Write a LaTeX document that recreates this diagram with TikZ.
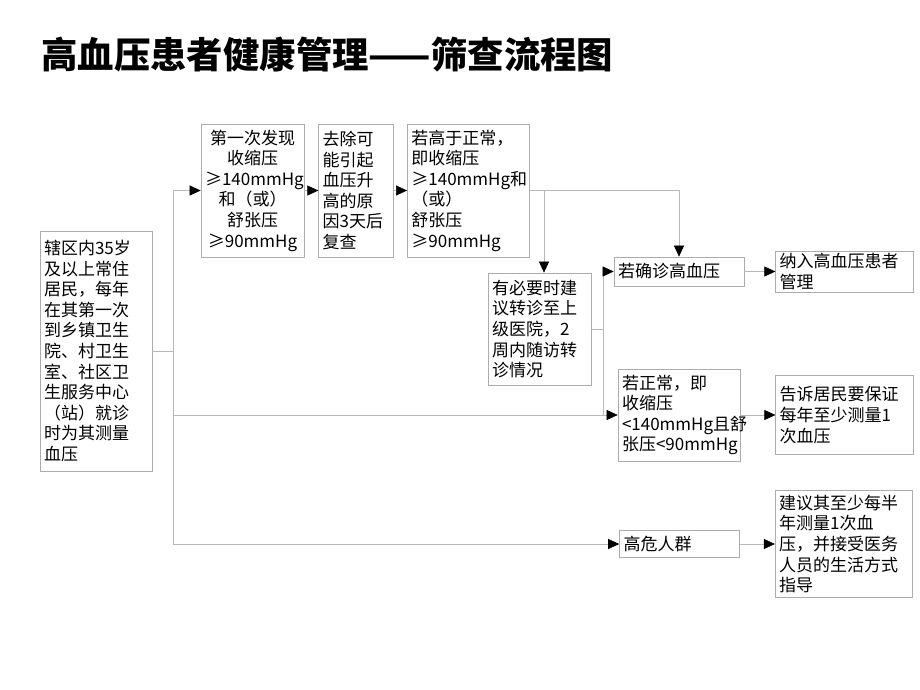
\documentclass[tikz,border=0pt]{standalone}
\usepackage{fontspec}
\setmainfont{Noto Sans CJK SC}
\usetikzlibrary{positioning}
\usetikzlibrary{arrows.meta}
\tikzstyle{blk} = [rectangle, fill=white, draw=gray!65, line width=0.7pt,
inner xsep=4pt, inner ysep=2pt, align=left, font=\fontsize{17}{20.6}\selectfont]
\tikzstyle{ttl} = [font=\fontsize{36.4}{42}\selectfont\bfseries, inner sep=0pt,
anchor=west]
\tikzstyle{ln} = [draw=gray!55, line width=0.6pt]
\tikzset{>={Triangle[length=11pt,width=10pt,color=black]}}
\newcommand{\arr}[2]{ %
  % straight arrow from box #1 to box #2
  \draw[ln,->] (#1.east) -- (#1.east -| #2.west) ;%
}

\begin{document}
\begin{tikzpicture}[x=1pt,y=-1pt]
	\useasboundingbox (0,0) rectangle (920,690) ;
	\node[ttl] (title) at (41,55) {高血压患者健康管理——筛查流程图} ; %

	\node[blk, text width=104pt, minimum height=240pt] (scr) at (96,351)
		{辖区内35岁\\及以上常住\\居民，每年\\在其第一次\\到乡镇卫生\\院、村卫生\\室、社区卫\\生服务中心\\（站）就诊\\时为其测量\\血压} ; %
	\node[blk, text width=95pt, minimum height=133pt, align=center] (first) at (252.5,190.5)
		{第一次发现\\收缩压\\≥140mmHg\\和（或）\\舒张压\\≥90mmHg} ; %
	\node[blk, text width=67pt, minimum height=133pt, right=14pt of first] (recheck)
		{去除可\\能引起\\血压升\\高的原\\因3天后\\复查} ; %
	\node[blk, text width=114pt, minimum height=133pt, right=13pt of recheck] (high)
		{若高于正常，\\即收缩压\\≥140mmHg和\\（或）\\舒张压\\≥90mmHg} ; %

	\node[blk, text width=95pt, minimum height=112pt] (refer) at (539.5,329)
		{有必要时建\\议转诊至上\\级医院，2\\周内随访转\\诊情况} ; %
	\node[blk, text width=122pt, minimum height=29pt] (diag) at (679,271.5)
		{若确诊高血压} ; %
	\node[blk, text width=130pt, minimum height=41pt, right=31pt of diag] (manage)
		{纳入高血压患者\\管理} ; %
	\node[blk, text width=114pt, minimum height=92pt] (normal) at (679,415)
		{若正常，即\\收缩压\\<140mmHg且舒\\张压<90mmHg} ; %
	\node[blk, text width=130pt, minimum height=79pt, right=35pt of normal] (tell)
		{告诉居民要保证\\每年至少测量1\\次血压} ; %
	\node[blk, text width=112pt, minimum height=27pt] (risk) at (679.5,544)
		{高危人群} ; %
	\node[blk, text width=129pt, minimum height=107pt, right=35pt of risk] (advise)
		{建议其至少每半\\年测量1次血\\压，并接受医务\\人员的生活方式\\指导} ; %

	% trunk on the left
	\coordinate (t1) at (173,190.5) ;
	\coordinate (t2) at (173,415) ;
	\coordinate (t3) at (173,544) ;
	\draw[ln] (scr.east) -- (scr.east -| t1) ;
	\draw[ln] (t1) -- (t3) ;
	\draw[ln,->] (t1) -- (first.west) ;
	\draw[ln,->] (t2) -- (normal.west) ;
	\draw[ln,->] (t3) -- (risk.west) ;

	\arr{first}{recheck}
	\arr{recheck}{high}

	% after the recheck
	\coordinate (br) at (544,190.5) ;
	\draw[ln,->] (high.east) -| (diag.north) ;
	\draw[ln,->] (br) -- (br |- refer.north) ;
	\coordinate (t4) at (603,329) ;
	\draw[ln] (refer.east) -- (t4) ;
	\draw[ln] (t4 |- diag.west) -- (t4 |- normal.west) ;
	\draw[ln,->] (t4 |- diag.west) -- (diag.west) ;

	\arr{diag}{manage}
	\arr{normal}{tell}
	\arr{risk}{advise}
\end{tikzpicture}
\end{document}
